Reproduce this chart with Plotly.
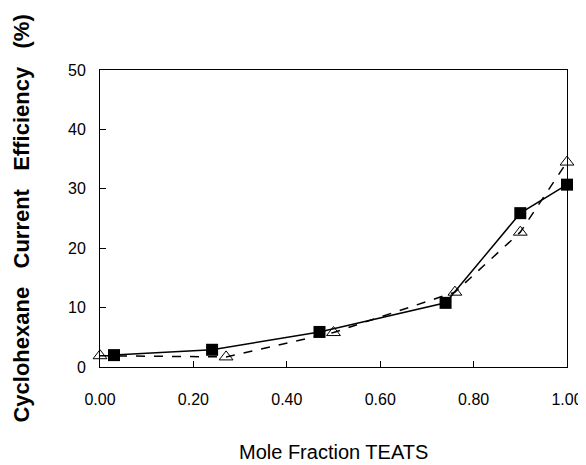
import plotly.graph_objects as go

sq_x = [0.03, 0.24, 0.47, 0.74, 0.90, 1.00]
sq_y = [2.0, 2.9, 5.9, 10.8, 25.9, 30.7]
tri_x = [0.00, 0.27, 0.50, 0.76, 0.90, 1.00]
tri_y = [1.9, 1.7, 5.8, 12.6, 22.7, 34.5]
x_ticks = [0.0, 0.2, 0.4, 0.6, 0.8, 1.0]
x_ticklabels = ["0.00", "0.20", "0.40", "0.60", "0.80", "1.00"]
y_ticks = [0, 10, 20, 30, 40, 50]

FONT = "Liberation Sans, Arial"

fig = go.Figure()
fig.add_trace(go.Scatter(
    x=tri_x, y=tri_y, mode="lines+markers",
    line=dict(color="black", width=1.5, dash="dash"),
    marker=dict(symbol="triangle-up-open", size=12, color="black", line=dict(width=1)),
    showlegend=False, cliponaxis=False))
fig.add_trace(go.Scatter(
    x=sq_x, y=sq_y, mode="lines+markers",
    line=dict(color="black", width=1.5),
    marker=dict(symbol="square", size=12, color="black"),
    showlegend=False, cliponaxis=False))

fig.update_xaxes(range=[0, 1.0], tickvals=x_ticks, ticktext=x_ticklabels,
                 ticks="inside", ticklen=6, tickcolor="black",
                 showline=True, linecolor="black", linewidth=1, mirror=True,
                 showgrid=False, zeroline=False, ticklabelstandoff=18,
                 automargin=False,
                 tickfont=dict(family=FONT, size=16, color="black"))
fig.update_yaxes(range=[0, 50], tickvals=y_ticks,
                 ticks="inside", ticklen=6, tickcolor="black",
                 showline=True, linecolor="black", linewidth=1, mirror=True,
                 showgrid=False, zeroline=False, ticklabelstandoff=10,
                 automargin=False,
                 tickfont=dict(family=FONT, size=16, color="black"))

sp = "\u00a0" * 3
fig.add_annotation(text="<b>Cyclohexane" + sp + "Current" + sp + "Efficiency" + sp + "(%)</b>",
                   xref="paper", yref="paper", x=-0.169, y=0.5, textangle=-90,
                   showarrow=False, xanchor="center", yanchor="middle",
                   font=dict(family=FONT, size=22, color="black"))
fig.add_annotation(text="Mole Fraction TEATS",
                   xref="paper", yref="paper", x=0.5, y=-0.285,
                   showarrow=False, xanchor="center", yanchor="middle",
                   font=dict(family=FONT, size=20, color="black"))

fig.update_layout(width=578, height=457,
                  margin=dict(l=92, r=19, t=62, b=98, autoexpand=False),
                  plot_bgcolor="white", paper_bgcolor="white")
fig.write_html("out.html")
